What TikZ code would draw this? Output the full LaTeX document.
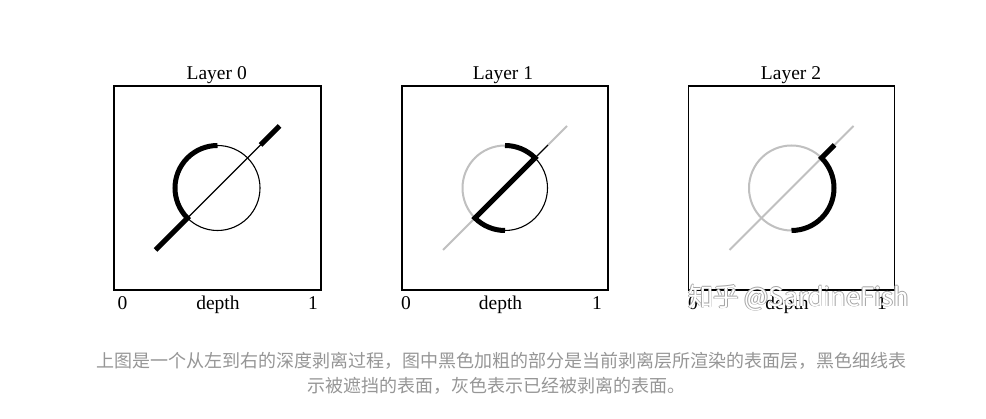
\documentclass[tikz,border=0pt]{standalone}
\usepackage{fontspec}
\setmainfont{Liberation Serif}
\newfontfamily\cjk{Noto Sans CJK SC}
\definecolor{peel}{RGB}{192,192,192}
\definecolor{capgray}{RGB}{150,150,150}
\definecolor{wmgray}{RGB}{165,165,165}
\tikzset{
  framebox/.style={draw=black, line width=1.2pt},
  thinl/.style={draw=black, line width=1.1pt},
  thickl/.style={draw=black, line width=5pt},
  peeled/.style={draw=peel, line width=2pt},
  lbl/.style={font=\fontsize{19.5}{22}\selectfont, inner sep=0pt, anchor=base},
  captxt/.style={font=\cjk\fontsize{18}{22}\selectfont, text=capgray, inner sep=0pt},
  wmtxt/.style={font=\cjk\fontsize{25.5}{28}\selectfont, inner sep=0pt}
}
\def\R{42.5}
\def\L{62}
\def\T{43}
\begin{document}
\begin{tikzpicture}[x=1pt,y=1pt]
\useasboundingbox[fill=white] (0,0) rectangle (986,419);

% ---------- Layer 0 ----------
\begin{scope}[shift={(217.5,231)}]
  \draw[framebox] (-103.5,-102) rectangle (103.5,102);
  \draw[thinl] (0,0) circle[radius=\R];
  \draw[thinl] (-\L,-\L) -- (\L,\L);
  \draw[thickl] (-\L,-\L) -- (225:\R) arc[start angle=225, end angle=90, radius=\R];
  \draw[thickl] (\T,\T) -- (\L,\L);
\end{scope}
\node[lbl] (t0) at (216.7,339) {Layer 0};
\node[lbl] (z0) at (122.5,109) {0};
\node[lbl] (d0) at (218,109) {depth};
\node[lbl] (o0) at (313,109) {1};

% ---------- Layer 1 ----------
\begin{scope}[shift={(505,231)}]
  \draw[framebox] (-103,-102) rectangle (103,102);
  \draw[peeled] (-\L,-\L) -- (225:\R);
  \draw[peeled] (\T,\T) -- (\L,\L);
  \draw[peeled] (90:\R) arc[start angle=90, end angle=225, radius=\R];
  \draw[thinl] (270:\R) arc[start angle=270, end angle=405, radius=\R];
  \draw[thinl] (45:\R) -- (\T,\T);
  \draw[thickl] (270:\R) arc[start angle=270, end angle=225, radius=\R]
     -- (45:\R) arc[start angle=45, end angle=90, radius=\R];
\end{scope}
\node[lbl] (t1) at (503,339) {Layer 1};
\node[lbl] (z1) at (406,109) {0};
\node[lbl] (d1) at (500.5,109) {depth};
\node[lbl] (o1) at (597,109) {1};

% ---------- Layer 2 ----------
\begin{scope}[shift={(791.5,231)}]
  \draw[framebox] (-103,-102) rectangle (103,102);
  \draw[peeled] (0,0) circle[radius=\R];
  \draw[peeled] (-\L,-\L) -- (\L,\L);
  \draw[thickl] (270:\R) arc[start angle=-90, end angle=45, radius=\R] -- (\T,\T);
\end{scope}
\node[lbl] (t2) at (791,339) {Layer 2};
\node[lbl] (z2) at (693,109) {0};
\node[lbl] (d2) at (787,109) {depth};
\node[lbl] (o2) at (882,109) {1};

% ---------- watermark ----------
\node[wmtxt, text=wmgray] (wma) at (799.3,121.5) {知乎 @SardineFish};
\node[wmtxt, text=wmgray] (wmb) at (797.7,121.5) {知乎 @SardineFish};
\node[wmtxt, text=wmgray] (wmc) at (798.5,122.3) {知乎 @SardineFish};
\node[wmtxt, text=wmgray] (wmd) at (798.5,120.7) {知乎 @SardineFish};
\node[wmtxt, text=white] (wm) at (798.5,121.5) {知乎 @SardineFish};

% ---------- caption ----------
\node[captxt] (cap1) at (501,58.5) {上图是一个从左到右的深度剥离过程，图中黑色加粗的部分是当前剥离层所渲染的表面层，黑色细线表};
\node[captxt] (cap2) at (496,33.5) {示被遮挡的表面，灰色表示已经被剥离的表面。};
\end{tikzpicture}
\end{document}
